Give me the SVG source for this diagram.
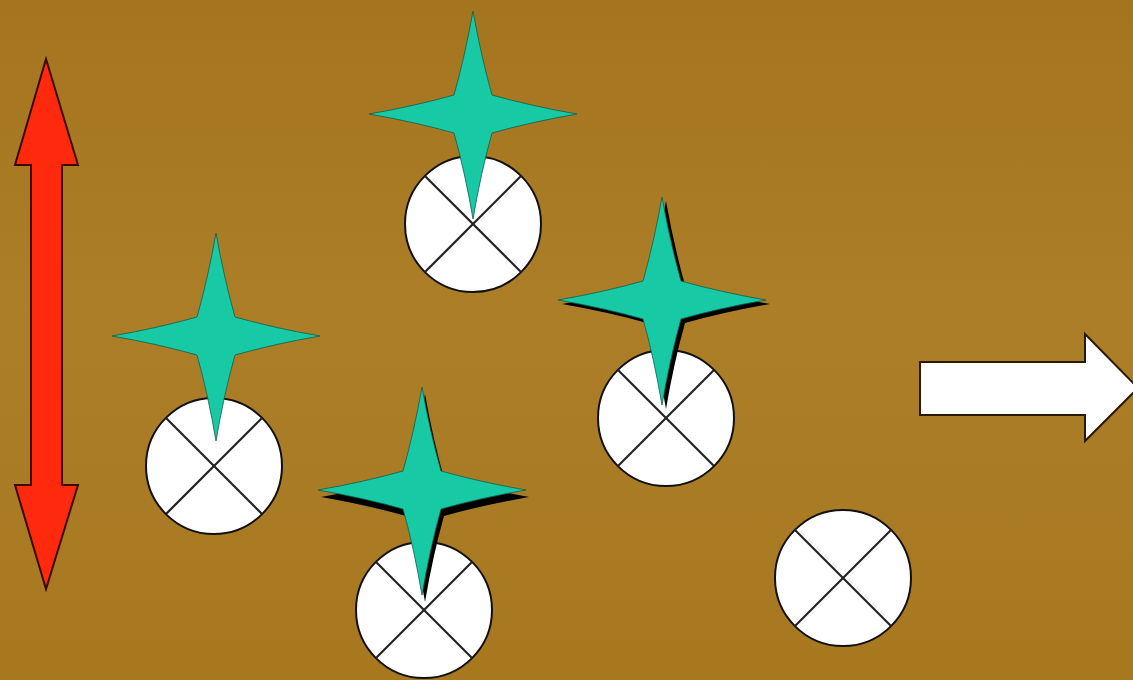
<svg xmlns="http://www.w3.org/2000/svg" xmlns:xlink="http://www.w3.org/1999/xlink" width="1133" height="680" viewBox="0 0 1133 680">
  <defs>
    <linearGradient id="bg" x1="0" y1="0" x2="0" y2="1">
      <stop offset="0" stop-color="#A5741F"/>
      <stop offset="0.45" stop-color="#AB7E27"/>
      <stop offset="0.75" stop-color="#A97B24"/>
      <stop offset="1" stop-color="#A8781E"/>
    </linearGradient>
    <path id="star" d="M0,-103 Q8,-58 19,-19 Q58,-8 104,0 Q58,8 19,19 Q8,58 0,105 Q-8,58 -19,19 Q-58,8 -104,0 Q-58,-8 -19,-19 Q-8,-58 0,-103 Z"/>
    <g id="wheel">
      <circle cx="0" cy="0" r="68" class="wheel"/>
      <line x1="-48" y1="-48" x2="48" y2="48" class="cross"/>
      <line x1="48" y1="-48" x2="-48" y2="48" class="cross"/>
    </g>
  </defs>
  <style>
    .wheel { fill: #FFFFFF; stroke: #111111; stroke-width: 2; }
    .cross { stroke: #222222; stroke-width: 2.2; }
    .star { fill: #17C9A5; stroke: #0F5E4C; stroke-width: 0.8; }
    .shadow { fill: #000000; }
    .red { fill: #FF2A0E; stroke: #3A0A00; stroke-width: 2; stroke-linejoin: miter; }
    .white { fill: #FFFFFF; stroke: #2A1A05; stroke-width: 2; }
  </style>
  <rect x="0" y="0" width="1133" height="680" fill="url(#bg)"/>

  <g id="red-arrow">
    <path class="red" d="M46,59 L78,165 L62,165 L62,485 L78,485 L46,589 L15,485 L31,485 L31,165 L15,165 Z"/>
  </g>

  <g id="node-left">
    <use xlink:href="#wheel" href="#wheel" transform="translate(214,466)"/>
    <use xlink:href="#star" href="#star" class="star" transform="translate(216,336)"/>
  </g>

  <g id="node-top">
    <use xlink:href="#wheel" href="#wheel" transform="translate(473,224)"/>
    <use xlink:href="#star" href="#star" class="star" transform="translate(473,114)"/>
  </g>

  <g id="node-middle">
    <use xlink:href="#wheel" href="#wheel" transform="translate(424,610)"/>
    <use xlink:href="#star" href="#star" class="shadow" transform="translate(425,497)"/>
    <use xlink:href="#star" href="#star" class="star" transform="translate(422,490)"/>
  </g>

  <g id="node-right">
    <use xlink:href="#wheel" href="#wheel" transform="translate(666,418)"/>
    <use xlink:href="#star" href="#star" class="shadow" transform="translate(666,304)"/>
    <use xlink:href="#star" href="#star" class="star" transform="translate(662,300)"/>
  </g>

  <g id="node-lone">
    <use xlink:href="#wheel" href="#wheel" transform="translate(843,578)"/>
  </g>

  <g id="connectors">
    <path class="white" d="M920,362 L1085,362 L1085,334 L1138,388 L1085,441 L1085,415 L920,415 Z"/>
  </g>
</svg>
